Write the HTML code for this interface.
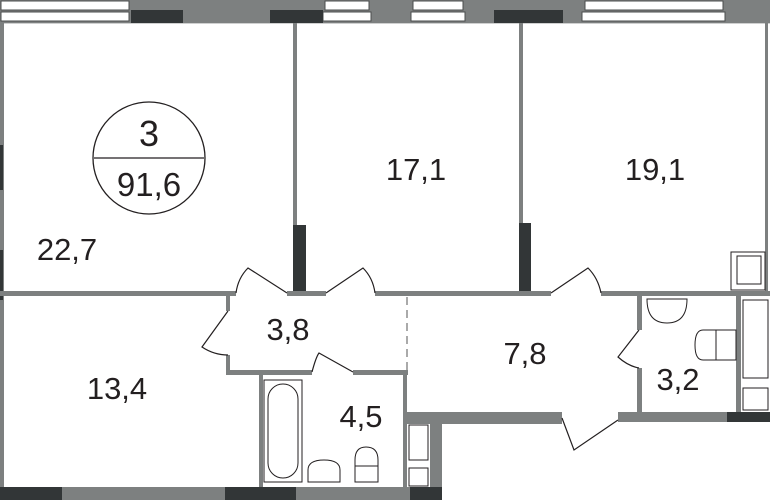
<!DOCTYPE html>
<html><head><meta charset="utf-8"><style>
html,body{margin:0;padding:0;background:#fff;}
svg{display:block}
text{font-family:"Liberation Sans",sans-serif;fill:#231f20;}
</style></head><body>
<svg width="770" height="500" viewBox="0 0 770 500" xmlns="http://www.w3.org/2000/svg">
<rect x="0" y="0" width="770" height="23" fill="#7d8080"/>
<g fill="#fff" stroke="#4a4d4d" stroke-width="1">
<rect x="1" y="1" width="128" height="9"/><rect x="1" y="12" width="128" height="9"/>
<rect x="325" y="1" width="44" height="9"/><rect x="323" y="12" width="48" height="9"/>
<rect x="413" y="1" width="50" height="9"/><rect x="411" y="12" width="54" height="9"/>
<rect x="585" y="1" width="138" height="9"/><rect x="582" y="12" width="143" height="9"/>
</g>
<rect x="0" y="23" width="770" height="1" fill="#cfd0d0"/>
<g fill="#323637">
<rect x="131" y="10" width="52" height="13"/>
<rect x="270" y="10" width="53" height="13"/>
<rect x="494" y="10" width="69" height="13"/>
</g>
<rect x="0" y="23" width="4" height="464" fill="#7d8080"/>
<rect x="0" y="145" width="3" height="45" fill="#323637"/>
<rect x="0" y="250" width="3" height="50" fill="#323637"/>
<rect x="765" y="23" width="3" height="270" fill="#7d8080"/>
<rect x="293" y="23" width="4" height="270" fill="#7d8080"/>
<rect x="293" y="225" width="13" height="70" fill="#323637"/>
<rect x="519" y="23" width="4" height="270" fill="#7d8080"/>
<rect x="519" y="223" width="12" height="72" fill="#323637"/>
<g fill="#7d8080">
<rect x="0" y="291" width="236" height="5"/>
<rect x="287" y="291" width="39" height="5"/>
<rect x="375" y="291" width="176" height="5"/>
<rect x="601" y="291" width="169" height="5"/>
<rect x="226" y="291" width="4" height="20"/>
<rect x="226" y="355" width="4" height="20"/>
<rect x="226" y="370" width="86" height="5"/>
<rect x="353" y="370" width="55" height="5"/>
<rect x="259" y="372" width="4" height="115"/>
<rect x="403" y="372" width="4" height="115"/>
<rect x="407" y="412" width="155" height="12"/>
<rect x="430" y="412" width="12" height="88"/>
<rect x="618" y="412" width="152" height="10"/>
<rect x="637" y="296" width="5" height="34"/>
<rect x="637" y="368" width="5" height="46"/>
<rect x="736" y="296" width="5" height="118"/>
<rect x="0" y="487" width="430" height="13"/>
</g>
<g fill="#323637">
<rect x="0" y="487" width="62" height="13"/>
<rect x="225" y="487" width="71" height="13"/>
<rect x="410" y="487" width="32" height="13"/>
<rect x="727" y="412" width="43" height="10"/>
</g>
<line x1="407" y1="297" x2="407" y2="370" stroke="#555" stroke-width="1" stroke-dasharray="8,5"/>
<g fill="none" stroke="#231f20" stroke-width="1.2">
<path d="M287 293 L248 268 Q238 278 236 293"/>
<path d="M326 293 L363 268 Q373 278 375 293"/>
<path d="M551 293 L588 268 Q598 278 601 293"/>
<path d="M228 311 L202 347 Q214 355 228 355"/>
<path d="M312 372 Q316 357 319 353 L353 372"/>
<path d="M562 418 L574 450 L618 420"/>
<path d="M639 330 L618 357 Q628 366 639 368"/>
</g>
<g fill="#fff" stroke="#231f20" stroke-width="1">
<rect x="264" y="380" width="38" height="102"/>
<rect x="268" y="384" width="30" height="94" rx="15"/>
<path d="M308 482 L308 470 Q308 460 324 460 Q340 460 340 470 L340 482 Z"/>
<path d="M355 482 L355 460 Q355 447 366 447 Q378 447 378 460 L378 482 Z"/>
<line x1="355" y1="466" x2="378" y2="466"/>
<rect x="409" y="425" width="19" height="35"/>
<rect x="409" y="468" width="19" height="18"/>
<path d="M647 299 L687 299 Q687 323 667 323 Q647 323 647 299 Z"/>
<path d="M716 330 L716 360 L703 360 Q695 360 695 345 Q695 330 703 330 Z"/>
<rect x="716" y="330" width="20" height="30"/>
<rect x="731" y="252" width="34" height="38"/>
<rect x="737" y="256" width="24" height="28"/>
<rect x="743" y="300" width="25" height="78"/>
<rect x="743" y="388" width="25" height="22"/>
</g>
<circle cx="149" cy="158" r="56" fill="none" stroke="#231f20" stroke-width="1.3"/>
<line x1="94" y1="158" x2="204" y2="158" stroke="#231f20" stroke-width="1.3"/>
<g font-size="31" text-anchor="middle">
<text x="149" y="146" font-size="36">3</text>
<text x="149" y="196" font-size="33">91,6</text>
<text x="67" y="260">22,7</text>
<text x="416" y="180">17,1</text>
<text x="655" y="180">19,1</text>
<text x="117" y="399">13,4</text>
<text x="288" y="340">3,8</text>
<text x="525" y="364">7,8</text>
<text x="678" y="390">3,2</text>
<text x="361" y="427">4,5</text>
</g>
</svg>
</body></html>
